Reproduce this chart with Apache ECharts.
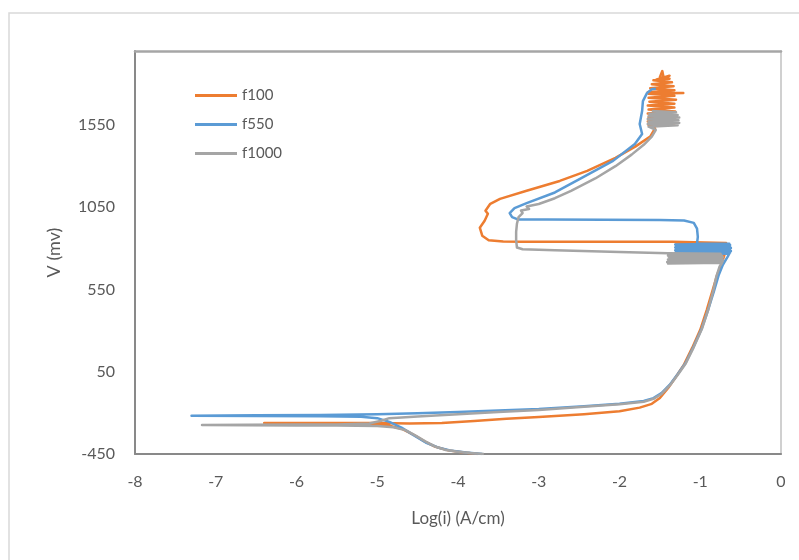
<!DOCTYPE html>
<html>
<head>
<meta charset="utf-8">
<script src="https://cdn.jsdelivr.net/npm/echarts@6/dist/echarts.min.js"></script>
<style>html,body{margin:0;padding:0;background:#fff}#c{width:799px;height:560px}</style>
</head>
<body>
<div id="c"></div>
<script>
const seriesNames = ['f100', 'f550', 'f1000'];
const yTickLabels = [-450, 50, 550, 1050, 1550];
const xTickLabels = [-8, -7, -6, -5, -4, -3, -2, -1, 0];

// [log(i), V] in drawing order
const f100 = [
  [-3.75,-450],[-3.95,-440],[-4.12,-428],[-4.28,-406],[-4.42,-372],[-4.56,-330],[-4.7,-296],[-4.85,-278],[-5.1,-268],[-5.6,-264],[-6.0,-263],[-6.4,-262],
  [-6.0,-261],[-5.5,-261],[-5.0,-262],[-4.6,-265],[-4.2,-262],[-3.8,-250],[-3.4,-236],[-3.0,-225],[-2.44,-208],[-2.0,-190],[-1.75,-168],[-1.6,-145],[-1.5,-110],[-1.4,-50],[-1.3,20],[-1.2,95],[-1.1,195],[-1.0,305],[-0.92,425],[-0.85,540],[-0.79,640],[-0.74,700],[-0.7,760],
  [-1.3,778],[-0.68,784],[-1.3,792],[-0.67,800],[-1.3,808],[-0.68,816],[-1.3,824],[-0.68,832],[-1.34,840],
  [-2.0,841],[-2.8,841],[-3.2,841],[-3.44,842],[-3.62,850],[-3.70,877],[-3.73,926],[-3.67,968],[-3.63,1010],[-3.66,1029],[-3.60,1071],[-3.48,1101],[-3.15,1150],[-2.74,1210],[-2.40,1271],[-2.05,1350],[-1.8,1420],[-1.62,1480],[-1.56,1530],
  [-1.64,1550],[-1.32,1560],[-1.65,1572],[-1.31,1584],[-1.64,1596],[-1.32,1608],[-1.65,1620],[-1.31,1632],[-1.64,1644],[-1.32,1656],[-1.65,1668],[-1.32,1680],[-1.63,1692],[-1.3,1704],[-1.64,1716],[-1.32,1728],[-1.64,1740],[-1.21,1745],[-1.65,1750],[-1.32,1762],[-1.62,1774],[-1.33,1786],[-1.6,1798],[-1.35,1810],[-1.58,1822],[-1.38,1832],[-1.5,1840],[-1.47,1878],[-1.45,1830],[-1.38,1850],[-1.55,1825]
];
const f550 = [
  [-3.7,-450],[-3.9,-441],[-4.1,-428],[-4.25,-410],[-4.4,-380],[-4.55,-335],[-4.7,-290],[-4.85,-255],[-5.0,-232],[-5.2,-224],[-5.7,-221],[-6.5,-219],[-7.3,-218],
  [-6.5,-215],[-5.7,-213],[-5.0,-209],[-4.5,-202],[-4.0,-194],[-3.5,-186],[-3.0,-177],[-2.44,-160],[-2.0,-145],[-1.7,-128],[-1.58,-110],[-1.48,-80],[-1.38,-30],[-1.28,35],[-1.18,105],[-1.08,205],[-0.98,315],[-0.9,430],[-0.83,540],[-0.77,640],[-0.72,700],[-0.66,750],[-0.64,768],
  [-1.31,770],[-0.63,775],[-1.30,779],[-0.62,784],[-1.31,788],[-0.63,793],[-1.30,797],[-0.62,802],[-1.31,806],[-0.63,811],[-1.30,815],[-0.63,820],[-1.31,824],[-0.64,828],[-1.04,830],
  [-1.03,870],[-1.04,920],[-1.08,955],[-1.2,970],[-1.5,973],[-2.2,974],[-2.9,975],[-3.26,976],[-3.33,990],[-3.36,1015],[-3.3,1045],[-3.15,1075],[-2.8,1140],[-2.49,1223],[-2.08,1332],[-1.81,1435],[-1.72,1495],[-1.75,1556],[-1.72,1635],[-1.71,1695],[-1.66,1744],[-1.6,1768],[-1.55,1770]
];
const f1000 = [
  [-3.68,-450],[-3.85,-444],[-4.0,-436],[-4.15,-426],[-4.28,-405],[-4.4,-375],[-4.52,-340],[-4.65,-305],[-4.8,-287],[-5.0,-280],[-5.5,-277],[-6.0,-276],[-6.6,-275],[-7.17,-274],
  [-6.6,-272],[-6.0,-271],[-5.5,-270],[-5.1,-264],[-4.95,-248],[-4.85,-232],[-4.5,-222],[-4.0,-208],[-3.5,-195],[-3.0,-182],[-2.44,-163],[-2.0,-148],[-1.7,-132],[-1.58,-115],[-1.48,-85],[-1.38,-35],[-1.28,30],[-1.18,100],[-1.08,200],[-0.98,310],[-0.9,430],[-0.84,540],[-0.8,630],[-0.76,690],[-0.73,712],
  [-1.40,708],[-0.73,714],[-1.41,717],[-0.72,722],[-1.39,725],[-0.72,730],[-1.40,733],[-0.73,738],[-1.38,741],[-0.72,746],[-1.39,749],[-0.73,754],[-1.40,757],[-0.74,761],[-1.39,764],[-0.75,768],[-1.40,770],
  [-2.0,778],[-2.8,788],[-3.2,795],[-3.27,805],[-3.28,850],[-3.28,900],[-3.27,950],[-3.25,990],[-3.2,1015],[-3.22,1030],[-3.12,1040],[-3.15,1055],[-3.0,1070],[-2.8,1105],[-2.6,1150],[-2.3,1225],[-2.05,1300],[-1.85,1370],[-1.7,1430],[-1.6,1480],[-1.55,1520],
  [-1.64,1540],[-1.28,1548],[-1.65,1556],[-1.26,1563],[-1.64,1571],[-1.27,1579],[-1.65,1587],[-1.26,1595],[-1.64,1603],[-1.28,1611],[-1.63,1619],[-1.3,1627],[-1.6,1635]
];
const colors = ['#ED7D31', '#5B9BD5', '#A5A5A5'];
const dataSets = [f100, f550, f1000];

const chart = echarts.init(document.getElementById('c'), null, {renderer: 'canvas'});
const textColor = '#595959';
const font = 'Lato, "Liberation Sans", sans-serif';
chart.setOption({
  animation: false,
  backgroundColor: '#ffffff',
  graphic: [{
    type: 'rect', silent: true, z: -10,
    shape: {x: 9, y: 13, width: 820, height: 580},
    style: {fill: '#ffffff', stroke: '#d9d9d9', lineWidth: 1.5}
  }],
  grid: {left: 135, right: 18, top: 51, bottom: 106, containLabel: false},
  legend: {
    orient: 'vertical', left: 190, top: 83,
    icon: 'rect', itemWidth: 42, itemHeight: 3, itemGap: 14,
    data: seriesNames,
    textStyle: {color: textColor, fontSize: 15, fontFamily: font}
  },
  xAxis: [{
    type: 'value', min: xTickLabels[0], max: xTickLabels[xTickLabels.length - 1], interval: 1,
    name: 'Log(i) (A/cm)', nameLocation: 'middle', nameGap: 56,
    nameTextStyle: {color: textColor, fontSize: 17, fontFamily: font},
    axisLine: {show: true, onZero: false, lineStyle: {color: '#898989', width: 2}},
    axisTick: {show: false}, splitLine: {show: false},
    axisLabel: {color: textColor, fontSize: 16, fontFamily: font, margin: 20}
  }, {
    type: 'value', position: 'top', min: -8, max: 0,
    axisLine: {show: true, onZero: false, lineStyle: {color: '#a6a6a6', width: 2.5}},
    axisTick: {show: false}, axisLabel: {show: false}, splitLine: {show: false}
  }],
  yAxis: [{
    type: 'value', min: -450, max: 2000,
    name: 'V (mv)', nameLocation: 'middle', nameGap: 72, nameRotate: 90,
    nameTextStyle: {color: textColor, fontSize: 18, fontFamily: font},
    axisLine: {show: true, onZero: false, lineStyle: {color: '#898989', width: 2}},
    axisTick: {show: false}, splitLine: {show: false},
    axisLabel: {color: textColor, fontSize: 16, fontFamily: font, margin: 20,
      customValues: yTickLabels, formatter: v => String(v)}
  }, {
    type: 'value', position: 'right', min: -450, max: 2000,
    axisLine: {show: true, onZero: false, lineStyle: {color: '#d0d0d0', width: 2}},
    axisTick: {show: false}, axisLabel: {show: false}, splitLine: {show: false}
  }],
  series: seriesNames.map((n, i) => ({
    name: n, type: 'line', xAxisIndex: 0, yAxisIndex: 0,
    data: dataSets[i], symbol: 'none', showSymbol: false, smooth: false,
    color: colors[i],
    lineStyle: {color: colors[i], width: 2.5, join: 'round'},
    z: 2 + i
  }))
});
</script>
</body>
</html>
